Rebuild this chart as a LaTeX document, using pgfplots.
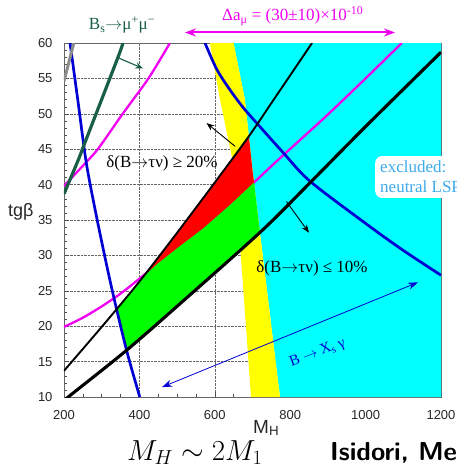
\RequirePackage{fix-cm}
\documentclass[border=0pt]{standalone}
\usepackage{fontspec}
\setmainfont{Liberation Serif}
\newfontfamily\hsans{Liberation Sans}
\usepackage{pgfplots}
\pgfplotsset{compat=1.18}
\usetikzlibrary{arrows.meta}
\definecolor{mycyan}{RGB}{0,255,255}
\definecolor{myyellow}{RGB}{255,255,0}
\definecolor{myred}{RGB}{255,0,0}
\definecolor{mygreen}{RGB}{0,255,0}
\definecolor{mymag}{RGB}{240,0,240}
\definecolor{myblue}{RGB}{0,0,210}
\definecolor{dkgreen}{RGB}{25,95,70}
\definecolor{lsp}{RGB}{60,170,235}
\begin{document}
\begin{tikzpicture}
\begin{axis}[
  at={(0,0)}, anchor=south west,
  scale only axis, width=377pt, height=354pt,
  xmin=200, xmax=1200, ymin=10, ymax=60,
  xtick={200,400,...,1200}, ytick={10,15,...,60},
  minor x tick num=3, minor y tick num=4,
  tick align=inside, xtick pos=bottom, ytick pos=left,
  major tick length=5pt, minor tick length=3pt,
  grid=major, major grid style={densely dotted, black!60, line width=0.6pt},
  axis line style={black!60, line width=0.5pt},
  tick style={black!70, line width=0.4pt},
  ticklabel style={font=\hsans\fontsize{13}{13}\selectfont, text=black!85},
  /pgf/number format/assume math mode=true,
  /pgf/number format/1000 sep={},
  xticklabel style={yshift=-10pt},
  yticklabel style={xshift=-8pt},
  clip=true,
]
% cyan excluded region
\addplot[draw=none, fill=mycyan] coordinates {(650,60) (680,52) (700,42) (718,34) (750,20) (773,10) (1200,10) (1200,60)};
% yellow band
\addplot[draw=none, fill=myyellow] coordinates {(587,60) (614,52) (645,44) (662,35) (680,22) (696,10) (773,10) (750,20) (718,34) (700,42) (680,52) (650,60)};
% magenta curves
\addplot[mymag, line width=2.3pt, smooth] coordinates {(200,39.8) (256,43) (291,45.1) (357,50.1) (424,55) (481,60)};
\addplot[mymag, line width=2.3pt, smooth] coordinates {(200,19.9) (250,21.2) (300,22.8) (350,24.6) (400,26.7) (450,28.9) (500,31.0) (569,33.8) (640,37.1) (702,40.2) (760,43.1) (826,46.3) (900,49.9) (1000,55.0) (1096,60)};
% red region
\addplot[draw=none, fill=myred] coordinates {(412,27.1) (500,33.2) (600,40.3) (690.4,46.8) (700,42) (704,40.3) (640,37.1) (569,33.8) (500,31.0) (450,28.9)};
% green region
\addplot[draw=none, fill=mygreen] coordinates {(340,22.4) (400,26.3) (412,27.1) (450,28.9) (500,31.0) (569,33.8) (640,37.1) (704,40.3) (718,34) (720,33.3) (521,23.8) (366,16.6)};
% blue curves
\addplot[myblue, line width=2.7pt, smooth] coordinates {(216,60) (238,51.4) (260,42.8) (290,34.5) (326,25.5) (366,16.6) (401,10)};
\addplot[myblue, line width=2.7pt, smooth] coordinates {(574,60) (605,56.3) (640,53.4) (675,50.9) (711,48.7) (780,44.6) (852,40.5) (1003,34.4) (1100,30.7) (1200,27.2)};
% black curves
\addplot[black, line width=1.9pt, smooth] coordinates {(200,13.7) (300,19.9) (400,26.3) (500,33.2) (600,40.3) (690,46.8) (755,51.9) (858,60)};
\addplot[black, line width=3.1pt, smooth] coordinates {(200,9.5) (211,10) (366,16.6) (521,23.8) (725,33.5) (857,40.5) (1000,48.2) (1200,58.7)};
% B_s -> mu mu
\addplot[dkgreen, line width=3.2pt, smooth] coordinates {(200,38.7) (238,43.5) (256,46) (344,58.1) (356,60)};
\addplot[black!45, line width=3pt] coordinates {(200,54.6) (226,60)};
% arrows
\draw[black, line width=0.9pt, -{Stealth[length=8pt,width=6pt]}] (axis cs:654,45.4) -- (axis cs:578,48.7);
\draw[black, line width=0.9pt, -{Stealth[length=8pt,width=6pt]}] (axis cs:790,37.6) -- (axis cs:850,33.2);
\draw[dkgreen, line width=1.1pt, -{Stealth[length=8pt,width=6.5pt]}] (axis cs:344,57.9) -- (axis cs:410,56.4);
\draw[myblue, line width=0.8pt, {Stealth[length=10pt,width=7pt]}-{Stealth[length=10pt,width=7pt]}] (axis cs:460,11.4) -- (axis cs:1139,26.2);
% texts
\node[font=\fontsize{17}{17}\selectfont] at (axis cs:460,43.05) {δ(B$\rightarrow$τν) ≥ 20\%};
\node[font=\fontsize{17}{17}\selectfont] at (axis cs:858,28.2) {δ(B$\rightarrow$τν) ≤ 10\%};
\node[font=\fontsize{15}{15}\selectfont, text=myblue, rotate=21, inner sep=1pt] at (axis cs:873,16.2) {B $\rightarrow$ X\textsubscript{s} γ};
\end{axis}
% outside texts (picture coordinates)
\node[anchor=base, text=dkgreen, font=\fontsize{17}{17}\selectfont] at (58pt,367pt) {B\textsubscript{s}$\rightarrow$μ\textsuperscript{+}μ\textsuperscript{−}};
\node[anchor=base west, text=mymag, font=\fontsize{17}{17}\selectfont, inner sep=0pt] at (158pt,376pt) {Δa\textsubscript{μ} = (30±10)×10\textsuperscript{-10}};
\draw[mymag, line width=2pt, {Stealth[length=11pt,width=8pt]}-{Stealth[length=11pt,width=8pt]}] (121pt,364.5pt) -- (331pt,364.5pt);
\node[anchor=west, fill=white, rounded corners=7pt, inner sep=5pt, align=left, text=lsp, font=\fontsize{17}{20}\selectfont] at (311pt,220pt) {excluded:\\neutral LSP};
\node[anchor=base west, inner sep=0pt, font=\hsans\fontsize{18}{18}\selectfont, text=black!85] at (-56pt,180pt) {tgβ};
\node[anchor=base west, inner sep=0pt, font=\hsans\fontsize{19}{19}\selectfont, text=black!85] at (189pt,-36pt) {M\textsubscript{H}};
\node[anchor=base west, inner sep=0pt, font=\fontsize{29}{29}\selectfont] at (63pt,-63pt) {$M_H \sim 2M_1$};
\node[anchor=base west, inner sep=0pt, font=\fontsize{26}{26}\selectfont\sffamily\bfseries] at (266pt,-63pt) {Isidori, Mescia};
\pgfresetboundingbox
\path[use as bounding box] (-64pt,-69pt) rectangle (393pt,397pt);
\end{tikzpicture}
\end{document}
